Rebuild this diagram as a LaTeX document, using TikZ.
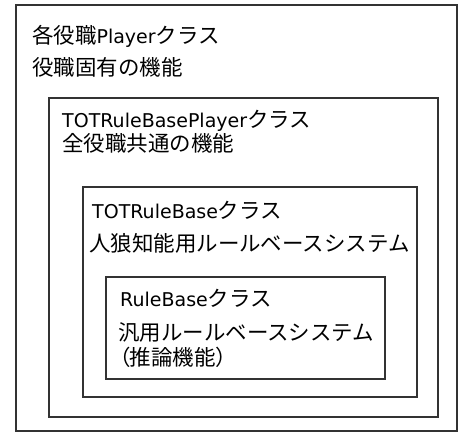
\documentclass[tikz,border=0pt]{standalone}
\usepackage{fontspec}
\setmainfont{DejaVu Sans}
\newfontfamily\jp{Noto Sans CJK JP}[Scale=1.13]
\newfontfamily\jpp{Noto Sans CJK JP}[Scale=1.13,RawFeature=+palt]
\newcommand\J[1]{{\jp #1}}
\begin{document}
\begin{tikzpicture}[x=1pt,y=-1pt]
\tikzset{
  frame/.style={draw=black!80,line width=1.3pt},
  lbl/.style={anchor=base west,inner sep=0pt,font=\fontsize{19}{22}\selectfont,text=black}
}
\useasboundingbox (0,0) rectangle (462,432);
\fill[white] (0,0) rectangle (462,432);
% frames
\draw[frame] (16,5) rectangle (457,431);
\draw[frame] (49,98) rectangle (438,417);
\draw[frame] (83,187) rectangle (417,397);
\draw[frame] (106,277) rectangle (385,379);
% texts
\node[lbl] (a1) at (32,43) {\J{各役職}Player\J{クラス}};
\node[lbl] (a2) at (32,75) {\J{役職固有の機能}};
\node[lbl] (b1) at (62,127.5) {TOTRuleBasePlayer\J{クラス}};
\node[lbl] (b2) at (62,151.5) {\J{全役職共通の機能}};
\node[lbl] (c1) at (92,218.5) {TOTRuleBase\J{クラス}};
\node[lbl] (c2) at (89,251) {\J{人狼知能用ルールベースシステム}};
\node[lbl] (d1) at (120,306.7) {RuleBase\J{クラス}};
\node[lbl] (d2) at (118,340) {\J{汎用ルールベースシステム}};
\node[lbl] (d3) at (119,365) {{\jpp （推論機能）}};
\end{tikzpicture}
\end{document}
